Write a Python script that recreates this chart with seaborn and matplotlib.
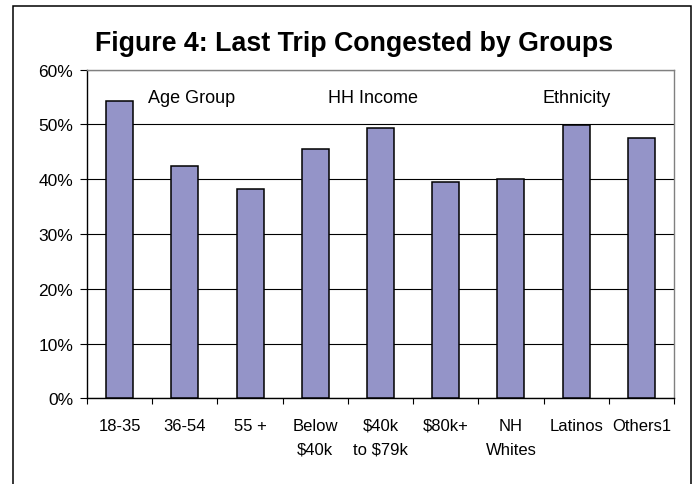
import matplotlib
matplotlib.use("Agg")
import numpy as np
import pandas as pd
import matplotlib.pyplot as plt
import seaborn as sns
from matplotlib.patches import Rectangle
from matplotlib.ticker import PercentFormatter

# Datos
groups = ["18-35", "36-54", "55 +", "Below\n\\$40k", "\\$40k\nto \\$79k",
          "\\$80k+", "NH\nWhites", "Latinos", "Others1"]
congested = [54.3, 42.5, 38.3, 45.6, 49.4, 39.5, 40.0, 49.9, 47.6]
section_names = ["Age Group", "HH Income", "Ethnicity"]
section_pos = [1.11, 3.89, 7.0]
y_ticks = [0, 10, 20, 30, 40, 50, 60]
title = "Figure 4: Last Trip Congested by Groups"

sns.set_style("white")
plt.rcParams["font.family"] = ["Liberation Sans", "DejaVu Sans"]
plt.rcParams["text.color"] = "black"
plt.rcParams["xtick.color"] = "black"
plt.rcParams["ytick.color"] = "black"
plt.rcParams["axes.labelcolor"] = "black"

df = pd.DataFrame({"group": groups, "pct": congested})

W, H = 696, 485
fig = plt.figure(figsize=(W / 100, H / 100), dpi=100)
ax = fig.add_axes([87 / W, 1 - 399.3 / H, (674 - 87) / W, (399.3 - 70.7) / H])

sns.barplot(data=df, x="group", y="pct", order=groups, color="#9494C8",
            saturation=1, width=0.414, edgecolor="black", linewidth=1.1,
            ax=ax, zorder=3)

ax.set_xlim(-0.5, len(groups) - 0.5)
ax.set_ylim(0, 60)
ax.set_yticks(y_ticks)
ax.yaxis.set_major_formatter(PercentFormatter(decimals=0))
ax.yaxis.grid(True, color="black", linewidth=0.8)
ax.set_axisbelow(True)
ax.set_xlabel("")
ax.set_ylabel("")

# marcas del eje x entre categorías
ax.set_xticks(np.arange(-0.5, len(groups), 1), minor=True)
ax.tick_params(axis="x", which="major", length=0, pad=14, labelsize=12,
               bottom=True)
ax.tick_params(axis="x", which="minor", length=4, width=0.8, color="black",
               direction="out", bottom=True)
ax.tick_params(axis="y", length=5, width=0.8, color="black", direction="out",
               left=True, pad=5, labelsize=12.5)
for lbl in ax.get_xticklabels():
    lbl.set_linespacing(1.75)

for side in ["left", "bottom"]:
    ax.spines[side].set_color("black")
    ax.spines[side].set_linewidth(1.0)
for side in ["top", "right"]:
    ax.spines[side].set_visible(True)
    ax.spines[side].set_color("#808080")
    ax.spines[side].set_linewidth(1.0)

for name, pos in zip(section_names, section_pos):
    ax.text(pos, 54.1, name, ha="center", va="baseline", fontsize=13)

fig.text(354 / W, 1 - 50.7 / H, title, ha="center", va="baseline",
         fontsize=19.3, fontweight="bold")

fig.patches.append(Rectangle((13 / W, -0.02), (690.7 - 13) / W, 1 - 7 / H + 0.02,
                             transform=fig.transFigure, fill=False,
                             edgecolor="black", linewidth=1.1))

fig.savefig("out.png", dpi=100)
